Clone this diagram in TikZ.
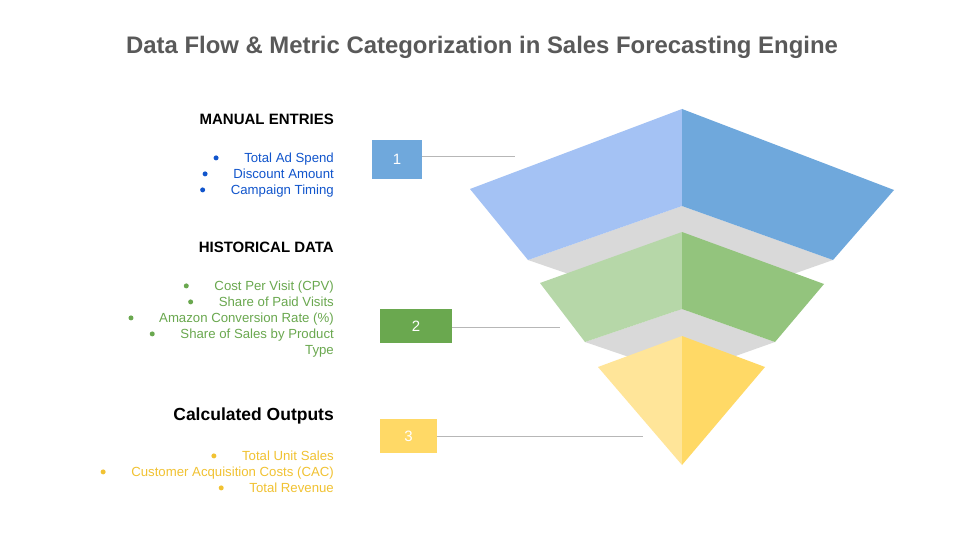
\documentclass[tikz,border=0pt]{standalone}
\usepackage{fontspec}
\setmainfont{Liberation Sans}
\definecolor{bluel}{HTML}{A4C2F4}
\definecolor{blued}{HTML}{6FA8DC}
\definecolor{greenl}{HTML}{B6D7A8}
\definecolor{greend}{HTML}{93C47D}
\definecolor{yell}{HTML}{FFE599}
\definecolor{yeld}{HTML}{FFD966}
\definecolor{grayband}{HTML}{D9D9D9}
\definecolor{box2}{HTML}{6AA84F}
\definecolor{txtblue}{HTML}{1155CC}
\definecolor{txtgreen}{HTML}{6AA84F}
\definecolor{txtyel}{HTML}{F1C232}
\definecolor{titlegray}{HTML}{595959}
\definecolor{linegray}{HTML}{B7B7B7}
\tikzset{
  numbox/.style={inner sep=0pt, text=white, font=\fontsize{15}{18}\selectfont},
  heading/.style={anchor=east, inner sep=0pt, font=\bfseries\fontsize{15}{18}\selectfont},
  item/.style={anchor=east, inner sep=0pt, text height=9.5pt, text depth=2.8pt, font=\fontsize{13.2}{16}\selectfont},
  bul/.style={circle, inner sep=0pt, minimum size=5pt, fill=#1},
  leader/.style={draw=linegray, line width=0.8pt}
}
\begin{document}
\begin{tikzpicture}[x=1pt,y=-1pt]
\useasboundingbox (0,0) rectangle (960,540);
\fill[white] (0,0) rectangle (960,540);
% title
\node[text=titlegray, font=\bfseries\fontsize{23.9}{28}\selectfont, inner sep=0pt] (title) at (482,47.5) {Data Flow \& Metric Categorization in Sales Forecasting Engine};

% funnel
\fill[grayband] (528,260) -- (682,206) -- (833,260) -- (682,313) -- cycle;
\fill[bluel] (682,109) -- (470,189) -- (528,260) -- (682,206) -- cycle;
\fill[blued] (682,109) -- (894,190) -- (833,260) -- (682,206) -- cycle;
\fill[grayband] (585,342) -- (682,309) -- (775,342) -- (682,375) -- cycle;
\fill[greenl] (682,232) -- (540,283) -- (585,342) -- (682,309) -- cycle;
\fill[greend] (682,232) -- (824,284) -- (775,342) -- (682,309) -- cycle;
\fill[yell] (682,336) -- (598,367) -- (682,465) -- cycle;
\fill[yeld] (682,336) -- (765,367) -- (682,465) -- cycle;

\coordinate (e1) at (515,156);
\coordinate (e2) at (560,327);
\coordinate (e3) at (643,436);

% number boxes
\node[numbox, fill=blued, minimum width=50pt, minimum height=39pt] (b1) at (397,159.5) {1};
\node[numbox, fill=box2, minimum width=72pt, minimum height=34pt] (b2) at (416,326) {2};
\node[numbox, fill=yeld, minimum width=57pt, minimum height=34pt] (b3) at (408.5,436) {3};
\draw[leader] (b1.east |- e1) -- (e1);
\draw[leader] (b2.east |- e2) -- (e2);
\draw[leader] (b3.east |- e3) -- (e3);

% headings
\node[heading] (h1) at (334,119.5) {MANUAL ENTRIES};
\node[heading] (h2) at (334,247.5) {HISTORICAL DATA};
\node[heading, font=\bfseries\fontsize{17.5}{20}\selectfont] (h3) at (334,415.5) {Calculated Outputs};

% blue list
\begin{scope}[every node/.append style={text=txtblue}]
\node[item] (m1) at (334,159.5) {Total Ad Spend};
\node[item] (m2) at (334,175.5) {Discount Amount};
\node[item] (m3) at (334,191.5) {Campaign Timing};
\foreach \n in {m1,m2,m3} \node[bul=txtblue] at ([xshift=-28pt,yshift=1.6pt]\n.west) {};
\end{scope}

% green list
\begin{scope}[every node/.append style={text=txtgreen}]
\node[item] (g1) at (334,287.5) {Cost Per Visit (CPV)};
\node[item] (g2) at (334,303.5) {Share of Paid Visits};
\node[item] (g3) at (334,319.5) {Amazon Conversion Rate (\%)};
\node[item] (g4) at (334,335.5) {Share of Sales by Product};
\node[item] (g5) at (334,351.5) {Type};
\foreach \n in {g1,g2,g3,g4} \node[bul=txtgreen] at ([xshift=-28pt,yshift=1.6pt]\n.west) {};
\end{scope}

% yellow list
\begin{scope}[every node/.append style={text=txtyel}]
\node[item] (y1) at (334,457.5) {Total Unit Sales};
\node[item] (y2) at (334,473.5) {Customer Acquisition Costs (CAC)};
\node[item] (y3) at (334,489.5) {Total Revenue};
\foreach \n in {y1,y2,y3} \node[bul=txtyel] at ([xshift=-28pt,yshift=1.6pt]\n.west) {};
\end{scope}
\end{tikzpicture}
\end{document}
